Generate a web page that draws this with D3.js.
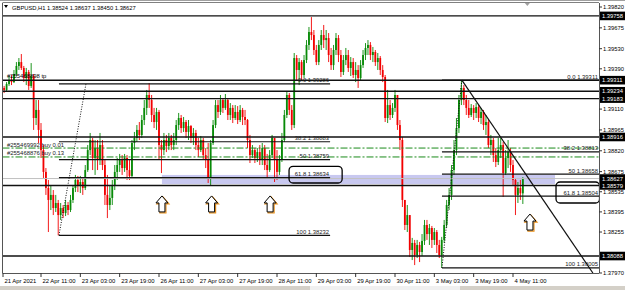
<!DOCTYPE html>
<html><head><meta charset="utf-8">
<script src="https://cdn.jsdelivr.net/npm/d3@7"></script>
<style>body{margin:0;background:#fff}svg{display:block}</style>
</head><body><script>
const width = 625
const height = 290
const plotLeft = 2.5
const plotRight = 599
const plotTop = 3
const plotBottom = 273
const font = "Liberation Sans, Arial, sans-serif"
const textSize = "5.9px"

// prices as points: 1.3 + v / 100000
const firstOpen = 9229
const closes = [9257,9243,9284,9312,9298,9354,9410,9437,9396,9326,9368,9271,9340,9048,9104,8965,8825,8673,8561,8478,
8513,8422,8457,8373,8422,8387,8443,8408,8478,8561,8617,8575,8603,8561,8686,8825,8895,8770,8839,8756,
8860,8721,8513,8443,8492,8582,8673,8721,8756,8700,8770,8686,8645,8874,8909,8965,8930,9034,9118,9208,
9173,9069,9020,9090,8860,8825,8895,8853,8909,8860,8895,8999,9048,8978,9020,8951,8992,8909,8944,8860,
8825,8895,8790,8756,8631,8874,8999,9138,9090,9173,9118,9173,9069,9118,9048,9090,9034,9104,9055,9034,
8895,8790,8825,8770,8811,8756,8839,8721,8686,8790,8909,8756,8673,8756,8895,9069,9208,9104,8999,9465,
9382,9437,9347,9451,9556,9646,9625,9521,9437,9556,9625,9590,9604,9486,9416,9521,9604,9486,9368,9451,
9486,9396,9437,9347,9382,9326,9416,9486,9535,9556,9486,9507,9437,9465,9382,9333,9048,9138,9069,9118,
9208,8999,8895,8478,8304,8373,8130,8179,8095,8165,8116,8193,8304,8241,8283,8200,8255,8165,8095,8200,
8304,8443,8513,8686,8825,8978,9173,9257,9173,9118,9069,9118,9083,9124,9048,9090,8999,9020,8860,8895,
8790,8742,8825,8860,8665,8770,8811,8721,8617,8513,8561,8524,8627]
const highs = [9277,9271,9298,9340,9347,9382,9437,9465,9493,9410,9396,9382,9430,9354,9173,9173,9013,8860,8700,8617,
8582,8547,8513,8478,8457,8443,8478,8464,8513,8582,8652,8645,8645,8631,8721,8860,8944,8909,8895,8895,
8944,8895,8756,8652,8582,8617,8721,8770,8798,8790,8798,8790,8756,8895,8951,8999,9020,9069,9173,9243,
9291,9208,9118,9118,9104,8895,8944,8930,8944,8930,8944,9034,9083,9069,9055,9034,9034,8999,8978,8965,
8909,8923,8909,8839,8874,8895,9034,9173,9173,9208,9187,9215,9187,9152,9138,9138,9131,9138,9118,9104,
9041,8930,8860,8839,8839,8860,8874,8860,8798,8825,8930,8909,8825,8790,8944,9104,9236,9222,9138,9500,
9486,9465,9451,9486,9590,9681,9750,9660,9556,9590,9660,9695,9660,9639,9535,9556,9639,9625,9521,9486,
9535,9521,9472,9465,9437,9416,9451,9521,9569,9590,9576,9542,9521,9500,9479,9416,9347,9243,9173,9152,
9243,9194,9034,8916,8478,8443,8373,8214,8200,8200,8186,8241,8339,8339,8311,8297,8283,8269,8200,8221,
8339,8478,8561,8721,8895,9048,9208,9311,9277,9208,9173,9145,9138,9152,9138,9118,9104,9069,9041,8930,
8909,8839,8909,8909,8881,8825,8895,8839,8756,8631,8603,8617,8637]
const lows = [9208,9222,9229,9271,9277,9291,9340,9382,9382,9298,9277,9243,9257,8965,8999,8874,8770,8631,8513,8255,
8408,8373,8394,8232,8339,8352,8366,8373,8394,8457,8533,8533,8526,8513,8547,8673,8790,8686,8652,8686,
8721,8686,8443,8352,8408,8443,8547,8617,8673,8652,8673,8617,8617,8631,8825,8881,8895,8909,8999,9069,
9118,9020,8978,8965,8756,8665,8790,8811,8825,8825,8825,8860,8965,8944,8951,8909,8895,8874,8860,8825,
8777,8811,8756,8700,8596,8582,8860,8978,9048,9069,9083,9104,9034,9034,9013,9034,9006,9020,8999,8999,
8839,8735,8770,8735,8742,8721,8721,8686,8631,8673,8770,8603,8617,8652,8742,8881,9048,9069,8965,8978,
9312,9277,9312,9326,9430,9521,9590,9486,9416,9416,9521,9535,9521,9437,9382,9382,9486,9437,9333,9347,
9416,9368,9340,9326,9298,9257,9312,9396,9451,9486,9451,9437,9410,9382,9347,9298,9020,9013,9034,9048,
9090,8965,8825,8429,8269,8255,8081,8060,8025,8074,8046,8088,8165,8200,8165,8144,8165,8109,8074,8005,
8179,8283,8408,8478,8652,8790,8944,9138,9138,9069,9048,9055,9034,9048,9020,9006,8965,8930,8839,8790,
8742,8707,8721,8770,8499,8652,8700,8673,8575,8373,8457,8478,8450]

const timeTicks = [0,16,32,48,64,80,96,112,128,144,160,176,192,208]
const timeLabels = ["21 Apr 2021","22 Apr 11:00","23 Apr 03:00","23 Apr 19:00","26 Apr 11:00","27 Apr 03:00","27 Apr 19:00",
  "28 Apr 11:00","29 Apr 03:00","29 Apr 19:00","30 Apr 11:00","3 May 03:00","3 May 19:00","4 May 11:00"]
const priceTicks = [1.39820,1.39675,1.39530,1.39390,1.39110,1.38965,1.38820,1.38675,1.38535,1.38395,1.38255,1.37970]
const markedPrices = [1.39758,1.39311,1.39234,1.39183,1.38916,1.38627,1.38579,1.38088]
const levelLines = [1.39758,1.39311,1.39234,1.39183,1.38916,1.38579,1.38088]
const bidPrice = 1.38627
const orderPrices = [1.38839,1.38777]
const orderLabels = ["#255469992 buy 0.01","#255468876 buy 0.13"]
const tpPrice = 1.39311
const tpLabel = "#255468898 tp"
const fibNames = ["0.0","38.2","50","61.8","100"]
const fibLeftPrices = [1.39286,1.38883,1.38759,1.38634,1.38232]
const fibLeftBars = [23.3,34.3,133.6]
const fibRightPrices = [1.39311,1.38813,1.38658,1.38504,1.38005]
const fibRightBars = [179.1,187.2,243]
const trendBars = [187.2,240.5]
const trendPrices = [1.39311,1.37970]
const zoneBars = [65.2,225.1]
const zonePrices = [1.38652,1.38589]
const arrowBars = [65.2,85.4,109.2,214.9]
const arrowPrices = [1.38506,1.38506,1.38506,1.38380]
const boxBars = [[116.9,138.5],[225.5,243.2]]
const boxPrices = [[1.38712,1.38596],[1.38603,1.38457]]
const title = "GBPUSD,H1  1.38524 1.38637 1.38450 1.38627"

const toPrice = v => 1.3 + v / 100000
const bars = closes.map((c, i) => {
    let o = toPrice(i === 0 ? firstOpen : closes[i - 1])
    let cl = toPrice(c)
    return {i: i, o: o, c: cl, h: Math.max(toPrice(highs[i]), o, cl), l: Math.min(toPrice(lows[i]), o, cl)}
})

const x = d3.scaleLinear().domain([16, 208]).range([41, 513])
const y = d3.scaleLinear().domain([1.37970, 1.39820]).range([273, 7])

const svg = d3.select("body").append("svg")
    .attr("width", width)
    .attr("height", height)
    .style("font-family", font)

svg.append("rect").attr("width", width).attr("height", height).attr("fill", "#fff")
svg.append("defs").append("clipPath").attr("id", "plot")
    .append("rect")
    .attr("x", plotLeft).attr("y", plotTop)
    .attr("width", plotRight - plotLeft).attr("height", plotBottom - plotTop)

// frame
svg.append("line").attr("x1", 0).attr("x2", width).attr("y1", 0.5).attr("y2", 0.5).attr("stroke", "#a0a0a0")
svg.append("line").attr("x1", plotLeft).attr("x2", plotRight).attr("y1", 2.5).attr("y2", 2.5).attr("stroke", "#808080")
svg.append("rect").attr("x", 0).attr("y", 286).attr("width", width).attr("height", 4).attr("fill", "#d4d0c8")
svg.append("rect").attr("x", 310).attr("y", 286).attr("width", 150).attr("height", 4).attr("fill", "#f0f0f0")

const plot = svg.append("g").attr("clip-path", "url(#plot)")

// zone
plot.append("rect")
    .attr("x", x(zoneBars[0]))
    .attr("y", y(zonePrices[0]))
    .attr("width", x(zoneBars[1]) - x(zoneBars[0]))
    .attr("height", y(zonePrices[1]) - y(zonePrices[0]))
    .attr("fill", "#c8c8f0")

// candles
const bullColor = "#078a07"
const bearColor = "#f20000"
const candle = plot.append("g").selectAll("g").data(bars).join("g")
candle.append("line")
    .attr("x1", d => x(d.i)).attr("x2", d => x(d.i))
    .attr("y1", d => y(d.h)).attr("y2", d => y(d.l))
    .attr("stroke", d => d.c >= d.o ? bullColor : bearColor)
    .attr("stroke-width", 0.9)
candle.append("rect")
    .attr("x", d => x(d.i) - 0.9)
    .attr("width", 1.8)
    .attr("y", d => y(Math.max(d.o, d.c)))
    .attr("height", d => Math.max(0.8, Math.abs(y(d.o) - y(d.c))))
    .attr("fill", d => d.c >= d.o ? bullColor : bearColor)

// horizontal levels
plot.selectAll(".level").data(levelLines).join("line")
    .attr("x1", plotLeft).attr("x2", plotRight)
    .attr("y1", d => y(d)).attr("y2", d => y(d))
    .attr("stroke", "#111").attr("stroke-width", 1.4)
plot.append("line")
    .attr("x1", plotLeft).attr("x2", plotRight)
    .attr("y1", y(bidPrice)).attr("y2", y(bidPrice))
    .attr("stroke", "#c0c0c0").attr("stroke-width", 1)
plot.selectAll(".order").data(orderPrices).join("line")
    .attr("x1", plotLeft).attr("x2", plotRight)
    .attr("y1", d => y(d)).attr("y2", d => y(d))
    .attr("stroke", "#1a8a1a").attr("stroke-width", 1)
    .attr("stroke-dasharray", "7,2,2,2")

// fibonacci
function drawFib(prices, fibBars, labelEnd) {
    plot.selectAll(null).data(prices).join("line")
        .attr("x1", x(fibBars[0])).attr("x2", x(fibBars[2]))
        .attr("y1", d => y(d)).attr("y2", d => y(d))
        .attr("stroke", "#111").attr("stroke-width", 1.2)
    plot.append("line")
        .attr("x1", x(fibBars[0])).attr("y1", y(prices[4]))
        .attr("x2", x(fibBars[1])).attr("y2", y(prices[0]))
        .attr("stroke", "#111").attr("stroke-width", 1)
        .attr("stroke-dasharray", "1,1.5")
    plot.selectAll(null).data(prices).join("text")
        .attr("x", labelEnd).attr("y", d => y(d) - 1.5)
        .attr("text-anchor", "end")
        .attr("font-size", textSize)
        .attr("fill", "#222")
        .text((d, i) => fibNames[i] + " " + d.toFixed(5))
}
drawFib(fibLeftPrices, fibLeftBars, x(fibLeftBars[2]) - 1)
drawFib(fibRightPrices, fibRightBars, plotRight - 1)

// trend line
plot.append("line")
    .attr("x1", x(trendBars[0])).attr("y1", y(trendPrices[0]))
    .attr("x2", x(trendBars[1])).attr("y2", y(trendPrices[1]))
    .attr("stroke", "#111").attr("stroke-width", 1.2)

// line labels
plot.append("text").attr("x", 7).attr("y", y(tpPrice) - 2)
    .attr("font-size", textSize).text(tpLabel)
plot.selectAll(".orderLabel").data(orderPrices).join("text")
    .attr("x", 7).attr("y", d => y(d) - 1.5)
    .attr("font-size", textSize).attr("fill", "#222")
    .text((d, i) => orderLabels[i])

// boxes
plot.selectAll(".box").data(boxBars).join("rect")
    .attr("x", d => x(d[0])).attr("width", d => x(d[1]) - x(d[0]))
    .attr("y", (d, i) => y(boxPrices[i][0]))
    .attr("height", (d, i) => y(boxPrices[i][1]) - y(boxPrices[i][0]))
    .attr("rx", 4).attr("fill", "none")
    .attr("stroke", "#000").attr("stroke-width", 1.3)

// arrows
const arrowShape = "M0,0 L6,7 L3,7 L3,16 L-3,16 L-3,7 L-6,7 Z"
arrowBars.forEach((b, i) => {
    let g = plot.append("g").attr("transform", `translate(${x(b)},${y(arrowPrices[i])})`)
    g.append("path").attr("d", arrowShape).attr("transform", "translate(1,1)")
        .attr("fill", "none").attr("stroke", "#e8901a").attr("stroke-width", 1.2)
    g.append("path").attr("d", arrowShape)
        .attr("fill", "#fff").attr("stroke", "#000").attr("stroke-width", 1)
})

// left and bottom borders
svg.append("line").attr("x1", plotLeft).attr("x2", plotLeft).attr("y1", plotTop).attr("y2", plotBottom)
    .attr("stroke", "#555")
svg.append("line").attr("x1", plotLeft).attr("x2", plotRight).attr("y1", plotBottom + 0.5).attr("y2", plotBottom + 0.5)
    .attr("stroke", "#555")
svg.append("line").attr("x1", plotRight + 0.5).attr("x2", plotRight + 0.5).attr("y1", plotTop).attr("y2", plotBottom)
    .attr("stroke", "#555")

// time axis
const timeAxis = svg.append("g")
timeAxis.selectAll("line").data(timeTicks).join("line")
    .attr("x1", d => Math.max(x(d), 3)).attr("x2", d => Math.max(x(d), 3))
    .attr("y1", plotBottom).attr("y2", plotBottom + 4)
    .attr("stroke", "#333")
timeAxis.selectAll("text").data(timeTicks).join("text")
    .attr("x", d => Math.max(x(d), 3) + 1.5).attr("y", 283)
    .attr("font-size", textSize).attr("fill", "#000")
    .text((d, i) => timeLabels[i])

// price axis
const priceAxis = svg.append("g")
priceAxis.selectAll("line").data(priceTicks).join("line")
    .attr("x1", plotRight).attr("x2", plotRight + 3)
    .attr("y1", d => y(d)).attr("y2", d => y(d))
    .attr("stroke", "#333")
priceAxis.selectAll("text").data(priceTicks).join("text")
    .attr("x", 603).attr("y", d => y(d) + 2.1)
    .attr("font-size", "5.8px").attr("fill", "#000")
    .text(d => d.toFixed(5))
const marks = svg.append("g").selectAll("g").data(markedPrices).join("g")
    .attr("transform", d => `translate(600,${y(d)})`)
marks.append("rect").attr("x", 0).attr("y", -4.3).attr("width", 25).attr("height", 8.6).attr("fill", "#000")
marks.append("text").attr("x", 2).attr("y", 2.1)
    .attr("font-size", "5.8px").attr("fill", "#fff")
    .text(d => d.toFixed(5))

// title
svg.append("path").attr("d", "M4,5 L8,5 L6,8 Z").attr("fill", "#000")
svg.append("text").attr("x", 12).attr("y", 9.5)
    .attr("font-size", "5.8px").attr("fill", "#000")
    .text(title)
svg.append("path").attr("d", `M${x(212) + 2},3 L${x(212) + 7},3 L${x(212) + 4.5},6 Z`).attr("fill", "#a0a0a0")
</script></body></html>
